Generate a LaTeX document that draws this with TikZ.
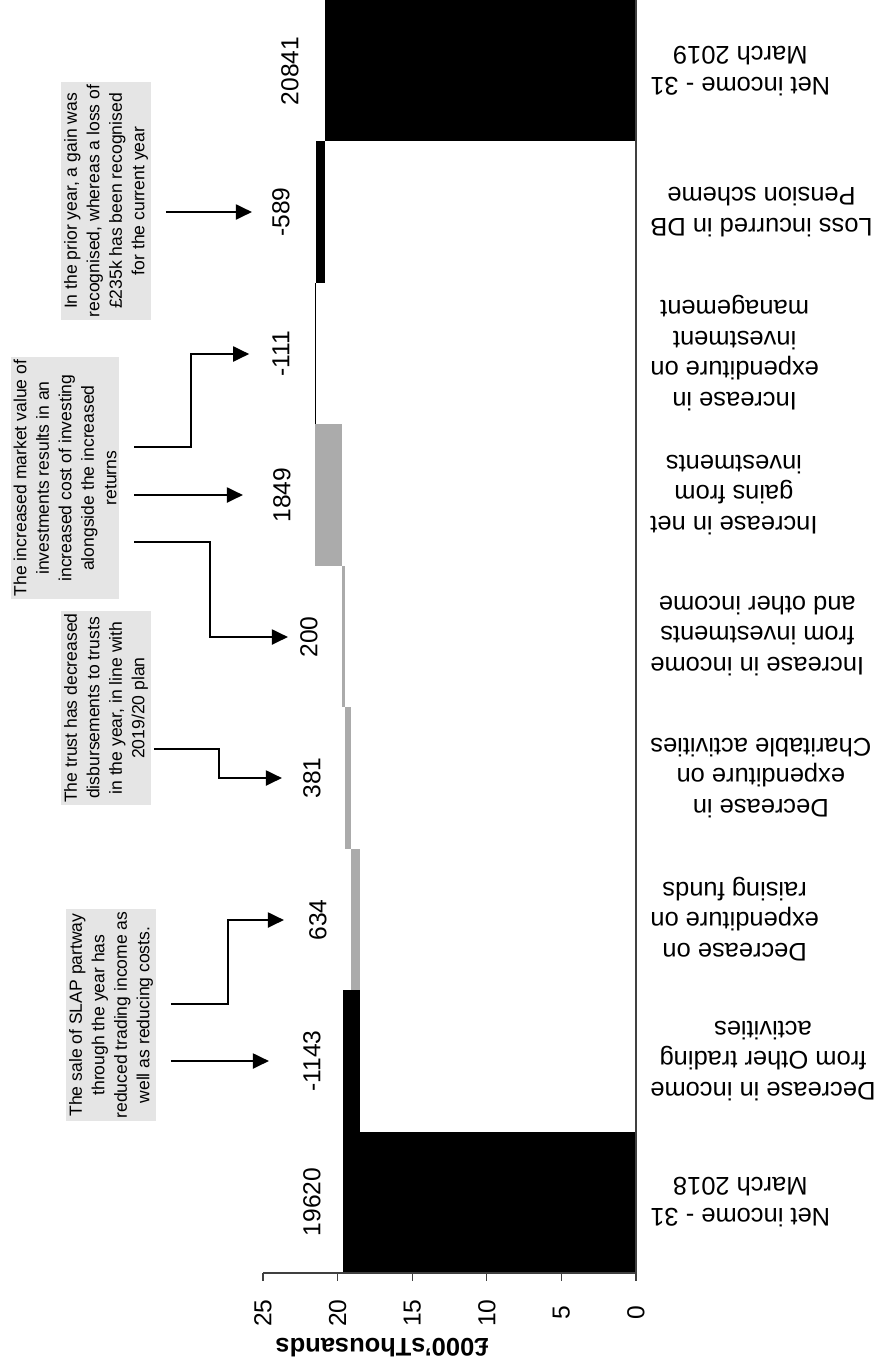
\documentclass[tikz,border=0pt]{standalone}
\usepackage{fontspec}
\setmainfont{Liberation Sans}
\usetikzlibrary{arrows.meta}
\tikzset{
  lossbar/.style={fill=black},
  gainbar/.style={fill=black!33},
  axisline/.style={draw=black!75, line width=0.25mm},
  ticklabel/.style={rotate=90, font=\fontsize{14}{17}\selectfont},
  valuelabel/.style={rotate=90, inner sep=0pt, font=\fontsize{14}{17}\selectfont},
  catlabel/.style={rotate=180, anchor=east, align=center, inner sep=0pt, font=\fontsize{14.5}{17.5}\selectfont},
  axistitle/.style={rotate=180, font=\bfseries\fontsize{14.5}{17.5}\selectfont},
  notebox/.style={rotate=90, fill=black!10, align=center, inner sep=1.5pt, font=\fontsize{10}{12.8}\selectfont},
  pointer/.style={->, line width=0.4mm, shorten <=3mm},
  >={Triangle[length=3.2mm, width=3mm]}
}
\begin{document}
\begin{tikzpicture}[x=0.2mm, y=-0.2mm]
  \useasboundingbox (0, 0) rectangle (887, 1370);
  % waterfall bars, x in thousands of pounds measured from the zero line
  \begin{scope}[shift={(636, 0)}, x=-2.984mm]
    \fill[lossbar] (0, 1131.6) rectangle (19.620, 1273);
    \fill[lossbar] (18.477, 990.1) rectangle (19.620, 1131.6);
    \fill[gainbar] (18.477, 848.7) rectangle (19.111, 990.1);
    \fill[gainbar] (19.111, 707.2) rectangle (19.492, 848.7);
    \fill[gainbar] (19.492, 565.8) rectangle (19.692, 707.2);
    \fill[gainbar] (19.692, 424.3) rectangle (21.541, 565.8);
    \fill[lossbar] (21.430, 282.9) rectangle (21.541, 424.3);
    \fill[lossbar] (20.841, 141.4) rectangle (21.430, 282.9);
    \fill[lossbar] (0, 0) rectangle (20.841, 141.4);
    % axes
    \draw[axisline] (0, 0) -- (0, 1273);
    \draw[axisline] (0, 1273) -- (25, 1273)
      (0, 1273) -- ++(0, 8) (5, 1273) -- ++(0, 8) (10, 1273) -- ++(0, 8)
      (15, 1273) -- ++(0, 8) (20, 1273) -- ++(0, 8) (25, 1273) -- ++(0, 8);
    \node[ticklabel] (t0) at (0, 1313) {0};
    \node[ticklabel] (t5) at (5, 1313) {5};
    \node[ticklabel] (t10) at (10, 1313) {10};
    \node[ticklabel] (t15) at (15, 1313) {15};
    \node[ticklabel] (t20) at (20, 1313) {20};
    \node[ticklabel] (t25) at (25, 1313) {25};
  \end{scope}
  \node[axistitle] (title) at (382, 1348) {£000'sThousands};

  % values
  \node[valuelabel] (v19620) at (312, 1202) {19620};
  \node[valuelabel] (v1143) at (312, 1061) {-1143};
  \node[valuelabel] (v634) at (318, 920) {634};
  \node[valuelabel] (v381) at (312, 778) {381};
  \node[valuelabel] (v200) at (309, 637) {200};
  \node[valuelabel] (v1849) at (282, 495) {1849};
  \node[valuelabel] (v111) at (281, 354) {-111};
  \node[valuelabel] (v589) at (281, 212) {-589};
  \node[valuelabel] (v20841) at (290, 71) {20841};

  % categories
  \node[catlabel] (c0) at (650, 1202) {Net income - 31\\March 2018};
  \node[catlabel] (c1) at (650, 1061) {Decrease in income\\from Other trading\\activities};
  \node[catlabel] (c2) at (650, 919) {Decrease on\\expenditure on\\raising funds};
  \node[catlabel] (c3) at (650, 778) {Decrease in\\expenditure on\\Charitable activities};
  \node[catlabel] (c4) at (650, 636) {Increase in income\\from investments\\and other income};
  \node[catlabel] (c5) at (650, 495) {Increase in net\\gains from\\investments};
  \node[catlabel] (c6) at (650, 353) {Increase in\\expenditure on\\investment\\management};
  \node[catlabel] (c7) at (650, 212) {Loss incurred in DB\\Pension scheme};
  \node[catlabel] (c8) at (650, 71) {Net income - 31\\March 2019};

  % notes
  \node[notebox] (slap) at (111, 1015) {The sale of SLAP partway\\through the year has\\reduced trading income as\\well as reducing costs.};
  \node[notebox] (trusts) at (106, 708) {The trust has decreased\\disbursements to trusts\\in the year, in line with\\2019/20 plan};
  \node[notebox] (market) at (65, 478) {The increased market value of\\investments results in an\\increased cost of investing\\alongside the increased\\returns};
  \node[notebox] (pension) at (106, 201) {In the prior year, a gain was\\recognised, whereas a loss of\\£235k has been recognised\\for the current year};

  \draw[pointer, shorten >=6.8mm] (slap.south |- v1143) -- (v1143.north);
  \draw[pointer, shorten >=5mm] (slap.south |- 0, 1004) -- ++(72, 0) |- (v634.north);
  \draw[pointer, shorten <=0.6mm, shorten >=4.2mm] (trusts.south |- 0, 749) -- ++(68, 0) |- (v381.north);
  \draw[pointer, shorten >=2.4mm] (market.south |- 0, 542) -- ++(91, 0) |- (v200.north);
  \draw[pointer, shorten >=6mm] (market.south |- v1849) -- (v1849.north);
  \draw[pointer, shorten >=4.6mm] (market.south |- 0, 447) -- ++(72, 0) |- (v111.north);
  \draw[pointer, shorten >=4mm] (pension.south |- v589) -- (v589.north);
\end{tikzpicture}
\end{document}
